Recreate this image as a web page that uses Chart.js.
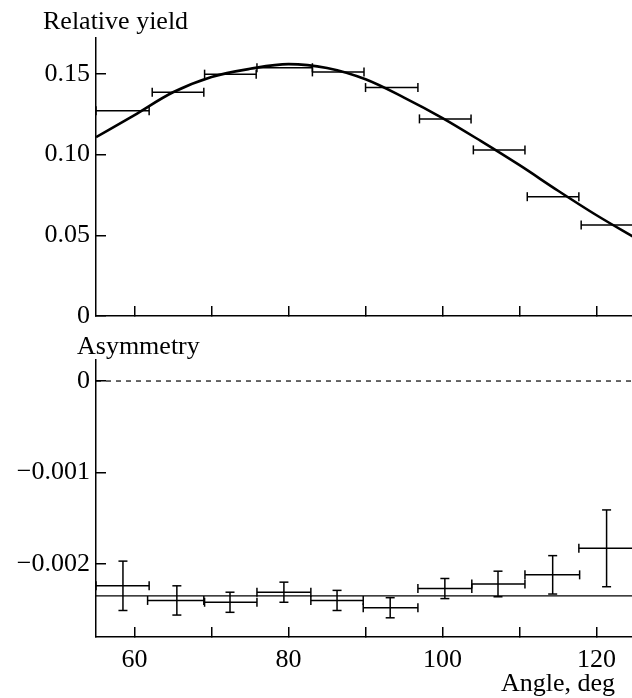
<!DOCTYPE html>
<html>
<head>
<meta charset="utf-8">
<title>Relative yield and asymmetry vs angle</title>
<script src="https://cdn.jsdelivr.net/npm/chart.js@4.4.1/dist/chart.umd.min.js"></script>
<style>
  html, body { margin: 0; padding: 0; background: #fff; overflow: hidden; }
  body { width: 632px; height: 698px; position: relative; font-family: 'Liberation Serif', 'Times New Roman', serif; }
  .panel { position: absolute; left: 0; width: 632px; }
  #top { top: 0; height: 330px; }
  #bottom { top: 330px; height: 368px; }
  .label { position: absolute; font-size: 26px; line-height: 26px; color: #000; white-space: nowrap; }
</style>
</head>
<body>
<div class="panel" id="top"><canvas id="yield-chart"></canvas></div>
<div class="panel" id="bottom"><canvas id="asym-chart"></canvas></div>
<div class="label" style="left:43px; top:8px">Relative yield</div>
<div class="label" style="left:77px; top:333px">Asymmetry</div>
<div class="label" style="right:17px; top:670px">Angle, deg</div>
<script>
// x axis (angle, deg)
const xTicks = [60, 70, 80, 90, 100, 110, 120];
const xTickLabels = [60, 80, 100, 120];

// top panel: relative yield per angular bin
const yieldBinLo = [55, 62.3, 69.1, 75.9, 83.1, 90.0, 97.0, 104.0, 111.0, 118.0];
const yieldBinHi = [61.9, 69.0, 75.8, 83.1, 89.8, 96.8, 103.7, 110.7, 117.7, 125];
const yieldValues = [0.1272, 0.1386, 0.1498, 0.1538, 0.1512, 0.1415, 0.1221, 0.1029, 0.0739, 0.0564];
const yieldTicks = [0, 0.05, 0.10, 0.15];
const yieldTickLabels = ['0', '0.05', '0.10', '0.15'];

// smooth curve over the yield
const curveAngles = [55, 60, 65, 70, 75, 80, 85, 90, 95, 100, 105, 110, 115, 120, 125];
const curveValues = [0.1108, 0.1245, 0.1386, 0.1481, 0.1531, 0.1560, 0.1536, 0.1466, 0.1353, 0.1226, 0.1083, 0.0934, 0.0776, 0.0624, 0.0484];

// bottom panel: asymmetry
const asymBinLo = [55, 61.7, 69.1, 75.9, 82.9, 89.7, 96.8, 103.8, 110.7, 117.7];
const asymBinHi = [61.9, 69.0, 75.9, 82.9, 89.7, 96.8, 103.8, 110.7, 117.8, 125];
const asymAngles = [58.5, 65.5, 72.4, 79.4, 86.3, 93.2, 100.3, 107.2, 114.3, 121.3];
const asymValues = [-0.00224, -0.00240, -0.00242, -0.00231, -0.00240, -0.00248, -0.00227, -0.00222, -0.00212, -0.00183];
const asymErrors = [0.00027, 0.00016, 0.00011, 0.00011, 0.00011, 0.00011, 0.00011, 0.00014, 0.00021, 0.00042];
const asymFitLevel = -0.00235;
const zeroLevel = 0;
const asymTicks = [-0.002, -0.001, 0];
const asymTickLabels = ['\u22120.002', '\u22120.001', '0'];

Chart.defaults.font.family = "'Liberation Serif', 'Times New Roman', serif";
Chart.defaults.font.size = 26;
Chart.defaults.color = '#000';

// line pieces separated by gaps
function segments(x1, x2, y1, y2) {
  const pts = [];
  for (let i = 0; i < x1.length; i++) {
    pts.push({x: x1[i], y: y1[i]}, {x: x2[i], y: y2[i]}, {x: x2[i], y: null});
  }
  return pts;
}

function pieces(data) {
  return { data, borderColor: '#000', borderWidth: 1.5, pointRadius: 0, spanGaps: false, tension: 0 };
}

function caps(data, rotation) {
  return { data, showLine: false, pointStyle: 'line', pointRadius: 4.5, pointRotation: rotation,
           pointBorderWidth: 1.5, pointBorderColor: '#000', pointBackgroundColor: '#000' };
}

function fullLine(level, extra) {
  return Object.assign({ data: [{x: 55, y: level}, {x: 125, y: level}], borderColor: '#000',
           borderWidth: 1.3, pointRadius: 0 }, extra);
}

function xAxis(showLabels, height) {
  return {
    type: 'linear', min: 55, max: 124.6,
    afterBuildTicks: s => { s.ticks = xTicks.map(v => ({value: v})); },
    afterFit: s => { s.height = height; s.paddingLeft = 0; s.paddingRight = 0; },
    grid: { drawOnChartArea: false, tickLength: -10, color: '#000', lineWidth: 1.5 },
    border: { color: '#000', width: 1.5 },
    ticks: { display: showLabels, padding: 18, autoSkip: false, maxRotation: 0,
             callback: v => xTickLabels.includes(v) ? String(v) : '' }
  };
}

function yAxis(min, max, ticks, labels) {
  return {
    type: 'linear', min, max,
    afterBuildTicks: s => { s.ticks = ticks.map(v => ({value: v})); },
    afterFit: s => { s.width = 96; s.paddingTop = 0; s.paddingBottom = 0; },
    grid: { drawOnChartArea: false, tickLength: -10, color: '#000', lineWidth: 1.5 },
    border: { color: '#000', width: 1.5 },
    ticks: { padding: 16, autoSkip: false, callback: (v, i) => labels[i] }
  };
}

const common = {
  responsive: true,
  maintainAspectRatio: false,
  animation: false,
  events: [],
  plugins: { legend: { display: false }, tooltip: { enabled: false } }
};

const yieldCaps = [];
yieldBinLo.forEach((lo, i) => {
  yieldCaps.push({x: lo, y: yieldValues[i]}, {x: yieldBinHi[i], y: yieldValues[i]});
});

new Chart(document.getElementById('yield-chart'), {
  type: 'line',
  data: {
    datasets: [
      Object.assign(fullLine(0), {
        data: curveAngles.map((a, i) => ({x: a, y: curveValues[i]})),
        borderWidth: 2.6, cubicInterpolationMode: 'monotone'
      }),
      pieces(segments(yieldBinLo, yieldBinHi, yieldValues, yieldValues)),
      caps(yieldCaps, 90)
    ]
  },
  options: Object.assign({}, common, {
    layout: { autoPadding: false, padding: { top: 38, left: 0, right: 0, bottom: 0 } },
    scales: {
      x: xAxis(false, 14),
      y: yAxis(0, 0.1722, yieldTicks, yieldTickLabels)
    }
  })
});

const asymLow = asymValues.map((v, i) => v - asymErrors[i]);
const asymHigh = asymValues.map((v, i) => v + asymErrors[i]);
const asymBinCaps = [];
const asymErrCaps = [];
asymBinLo.forEach((lo, i) => {
  asymBinCaps.push({x: lo, y: asymValues[i]}, {x: asymBinHi[i], y: asymValues[i]});
  asymErrCaps.push({x: asymAngles[i], y: asymLow[i]}, {x: asymAngles[i], y: asymHigh[i]});
});

new Chart(document.getElementById('asym-chart'), {
  type: 'line',
  data: {
    datasets: [
      fullLine(zeroLevel, { borderDash: [5, 5], borderWidth: 1.2 }),
      fullLine(asymFitLevel),
      pieces(segments(asymBinLo, asymBinHi, asymValues, asymValues)),
      pieces(segments(asymAngles, asymAngles, asymLow, asymHigh)),
      caps(asymBinCaps, 90),
      caps(asymErrCaps, 0)
    ]
  },
  options: Object.assign({}, common, {
    layout: { autoPadding: false, padding: { top: 30, left: 0, right: 0, bottom: 0 } },
    scales: {
      x: xAxis(true, 61),
      y: yAxis(-0.0028, 0.00023, asymTicks, asymTickLabels)
    }
  })
});
</script>
</body>
</html>
